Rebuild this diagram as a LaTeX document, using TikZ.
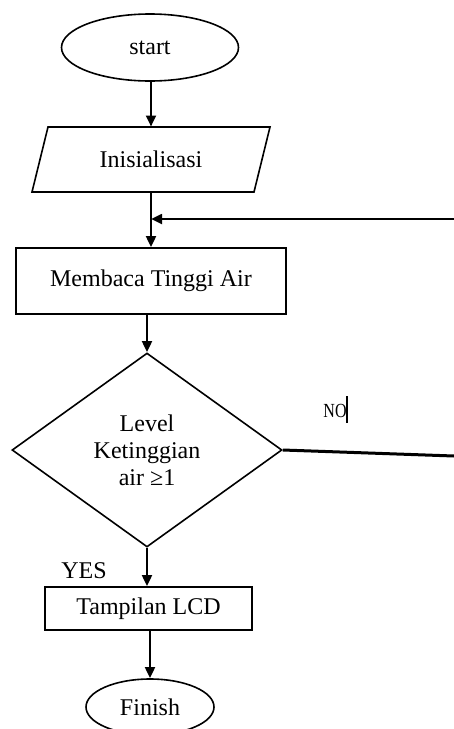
\documentclass[tikz,border=0pt]{standalone}
\usepackage{fontspec}
\setmainfont{Liberation Serif}
\usetikzlibrary{shapes.geometric,arrows.meta}
\begin{document}
\begin{tikzpicture}[x=0.5pt,y=-0.5pt,
  every node/.style={font=\fontsize{12}{13.5}\selectfont, inner sep=0pt},
  outl/.style={draw=black, line width=0.8pt},
  flow/.style={draw=black, line width=1.4pt, -{Triangle[length=5.5pt,width=4.8pt]}},
  plainline/.style={draw=black, line width=1.5pt}]
\useasboundingbox (0,0) rectangle (454,729);
\fill[white] (0,0) rectangle (454,729);
% start
\node[ellipse, outl, minimum width=88.5pt, minimum height=33.5pt] (start) at (150,47.5) {start};
% parallelogram
\draw[outl] (48,127) -- (270,127) -- (254,192) -- (32,192) -- cycle;
\node[minimum width=111pt, minimum height=32.5pt] (ini) at (151,159.5) {Inisialisasi};
% box
\node[rectangle, outl, minimum width=135pt, minimum height=33pt] (mem) at (151,281) {Membaca Tinggi Air};
% diamond
\node[diamond, outl, minimum width=135pt, minimum height=97pt, align=center] (dia) at (147,450) {Level\\Ketinggian\\air ≥1};
% LCD
\node[rectangle, outl, minimum width=103.5pt, minimum height=21.5pt] (lcd) at (148.5,608.5) {Tampilan LCD};
% finish
\node[ellipse, outl, minimum width=64pt, minimum height=28pt] (fin) at (150,707) {Finish};
% labels
\node (yes) at (84,571) {YES};
\node[font=\fontsize{10}{11}\selectfont, xscale=0.8] (no) at (335,411) {NO};
\draw[line width=0.6pt] (347,396) -- (347,423);
% connectors
\coordinate (fbR) at (454,219);
\coordinate (fbL) at (151,219);
\coordinate (noR) at (454,456);
\draw[flow] (start.south -| ini.north) -- (ini.north);
\draw[flow] (ini.south) -- (mem.north);
\draw[flow] (fbR) -- (fbL);
\draw[flow] (mem.south -| dia.north) -- (dia.north);
\draw[plainline] (dia.east) -- (noR);
\draw[flow] (dia.south) -- (dia.south |- lcd.north);
\draw[flow] (lcd.south -| fin.north) -- (fin.north);
\end{tikzpicture}
\end{document}
